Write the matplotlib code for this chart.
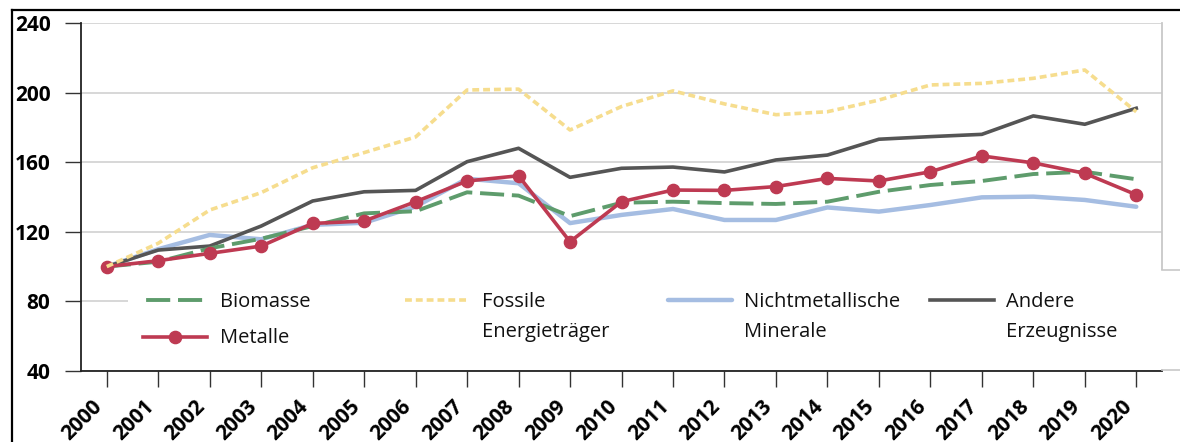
import matplotlib
matplotlib.use("Agg")
import matplotlib.pyplot as plt
from matplotlib.lines import Line2D
from matplotlib.patches import Rectangle
import matplotlib.transforms as mtransforms

plt.rcParams['font.family'] = ['Open Sans', 'DejaVu Sans']

years = list(range(2000, 2021))
biomasse = [100, 102.8, 110.5, 116, 123.3, 130.6, 131.8, 142.7, 140.8, 129, 136.7, 137.3,
            136.5, 136, 137.3, 143, 146.9, 149.2, 153.2, 154.5, 150.2]
metalle = [100, 103.4, 107.6, 111.8, 124.8, 126.2, 137.3, 149.2, 152.2, 114.3, 137.3, 144,
           143.8, 146, 150.7, 149.2, 154.5, 163.6, 159.6, 153.6, 141.3]
fossile = [100, 113.4, 132.5, 142.5, 156.8, 165.5, 174.5, 201.5, 202, 178.5, 192, 201,
           193.5, 187.3, 189, 195.7, 204.4, 205.3, 208.2, 213, 189]
nichtmet = [100, 110, 118.2, 115.7, 124, 125.2, 134.5, 150.5, 147.9, 125, 129.7, 133.1,
            126.8, 126.8, 134, 131.6, 135.4, 139.8, 140.2, 138.3, 134.4]
andere = [100, 109.5, 111.8, 123.3, 137.7, 143, 143.8, 160.3, 168, 151.3, 156.5, 157.2,
          154.4, 161.3, 164.1, 173.2, 174.7, 176, 186.6, 181.8, 191]

labels = ["Biomasse", "Metalle", "Fossile\nEnergieträger", "Nichtmetallische\nMinerale",
          "Andere\nErzeugnisse"]
yticks = [40, 80, 120, 160, 200, 240]

W, H = 1180, 442
fig = plt.figure(figsize=(W / 100, H / 100), dpi=100)
ax = fig.add_axes([81 / W, 1 - 371 / H, (1162 - 81) / W, (371 - 23) / H])

c_green = '#5E9C6C'
c_red = '#BE3A52'
c_yellow = '#F6DD8E'
c_blue = '#A5BDE2'
c_gray = '#555555'

green_ls = (0, (6.2, 2.0))
green_leg_ls = (7.4, (6.2, 2.0))
yellow_ls = (0, (1.9, 1.1))

styles = {
    'Biomasse': dict(color=c_green, lw=2.8, ls=green_ls, zorder=4),
    'Metalle': dict(color=c_red, lw=2.6, marker='o', ms=8.8, mec=c_red, mfc=c_red, zorder=5),
    'Fossile': dict(color=c_yellow, lw=2.6, ls=yellow_ls, zorder=6),
    'Nicht': dict(color=c_blue, lw=3.2, zorder=2, solid_capstyle='round'),
    'Andere': dict(color=c_gray, lw=2.6, zorder=3),
}

x = list(range(len(years)))
ax.plot(x, nichtmet, **styles['Nicht'])
ax.plot(x, andere, **styles['Andere'])
ax.plot(x, biomasse, **styles['Biomasse'])
ax.plot(x, metalle, **styles['Metalle'])
ax.plot(x, fossile, **styles['Fossile'])

ax.set_xlim(-0.5, len(years) - 0.5)
ax.set_ylim(40, 240)
ax.set_yticks(yticks)
ax.set_yticklabels([str(v) for v in yticks], fontsize=15, fontweight='bold')
ax.set_xticks(x)
ax.set_xticklabels([str(y) for y in years], fontsize=15, fontweight='bold',
                   rotation=45, ha='right', va='top')
offset = mtransforms.ScaledTranslation(6 / 100, 0, fig.dpi_scale_trans)
for lab in ax.get_xticklabels():
    lab.set_transform(lab.get_transform() + offset)

ax.tick_params(axis='y', direction='out', length=11.5, width=1.0, pad=10.5, color='#333333')
ax.tick_params(axis='x', direction='out', length=11.5, width=1.0, pad=6.5, color='#333333')

ax.grid(axis='y', color='#D4D4D4', lw=1.3, zorder=0)
ax.set_axisbelow(True)
for s in ['left', 'bottom']:
    ax.spines[s].set_color('#222222')
    ax.spines[s].set_linewidth(1.3)
ax.spines['top'].set_visible(False)
ax.spines['right'].set_color('#C8C8C8')
ax.spines['right'].set_linewidth(1.3)

def fx(px):
    return px / W

def fy(py):
    return 1 - py / H

# outer frame
fig.add_artist(Line2D([fx(12), 1], [fy(10), fy(10)], transform=fig.transFigure,
                      color='black', lw=1.6))
fig.add_artist(Line2D([fx(12), fx(12)], [0, fy(10)], transform=fig.transFigure,
                      color='black', lw=1.6))
# right-side box fragments
for py in (270, 370):
    fig.add_artist(Line2D([fx(1162), 1], [fy(py), fy(py)], transform=fig.transFigure,
                          color='#C8C8C8', lw=1.2))

# legend area (white box over plot)
fig.add_artist(Rectangle((fx(128), fy(369)), fx(1164) - fx(128), fy(270) - fy(369),
                         transform=fig.transFigure, facecolor='white', edgecolor='none',
                         zorder=1))

legend_items = [
    ('Biomasse', labels[0], 143, 300, 220, 302),
    ('Metalle', labels[1], 143, 337, 220, 338),
    ('Fossile', labels[2], 405, 300, 482, 302),
    ('Nicht', labels[3], 668, 300, 744, 302),
    ('Andere', labels[4], 930, 300, 1006, 302),
]
for key, lab, hx, hy, tx, ty in legend_items:
    st = dict(styles[key])
    st['zorder'] = 3
    if key == 'Metalle':
        l = Line2D([fx(hx), fx(hx + 64)], [fy(hy), fy(hy)], transform=fig.transFigure,
                   color=st['color'], lw=st['lw'], zorder=3)
        fig.add_artist(l)
        m = Line2D([fx(hx + 32)], [fy(hy)], transform=fig.transFigure, marker='o',
                   ms=st['ms'], color=st['color'], ls='none', zorder=4)
        fig.add_artist(m)
    else:
        if key == 'Biomasse':
            st['ls'] = green_leg_ls
        l = Line2D([fx(hx), fx(hx + 64)], [fy(hy), fy(hy)], transform=fig.transFigure, **st)
        fig.add_artist(l)
    for i, line in enumerate(lab.split('\n')):
        fig.text(fx(tx), fy(ty + i * 30), line, fontsize=14.5, ha='left', va='center',
                 color='#111111', zorder=3)

fig.savefig('out.png', dpi=100)
